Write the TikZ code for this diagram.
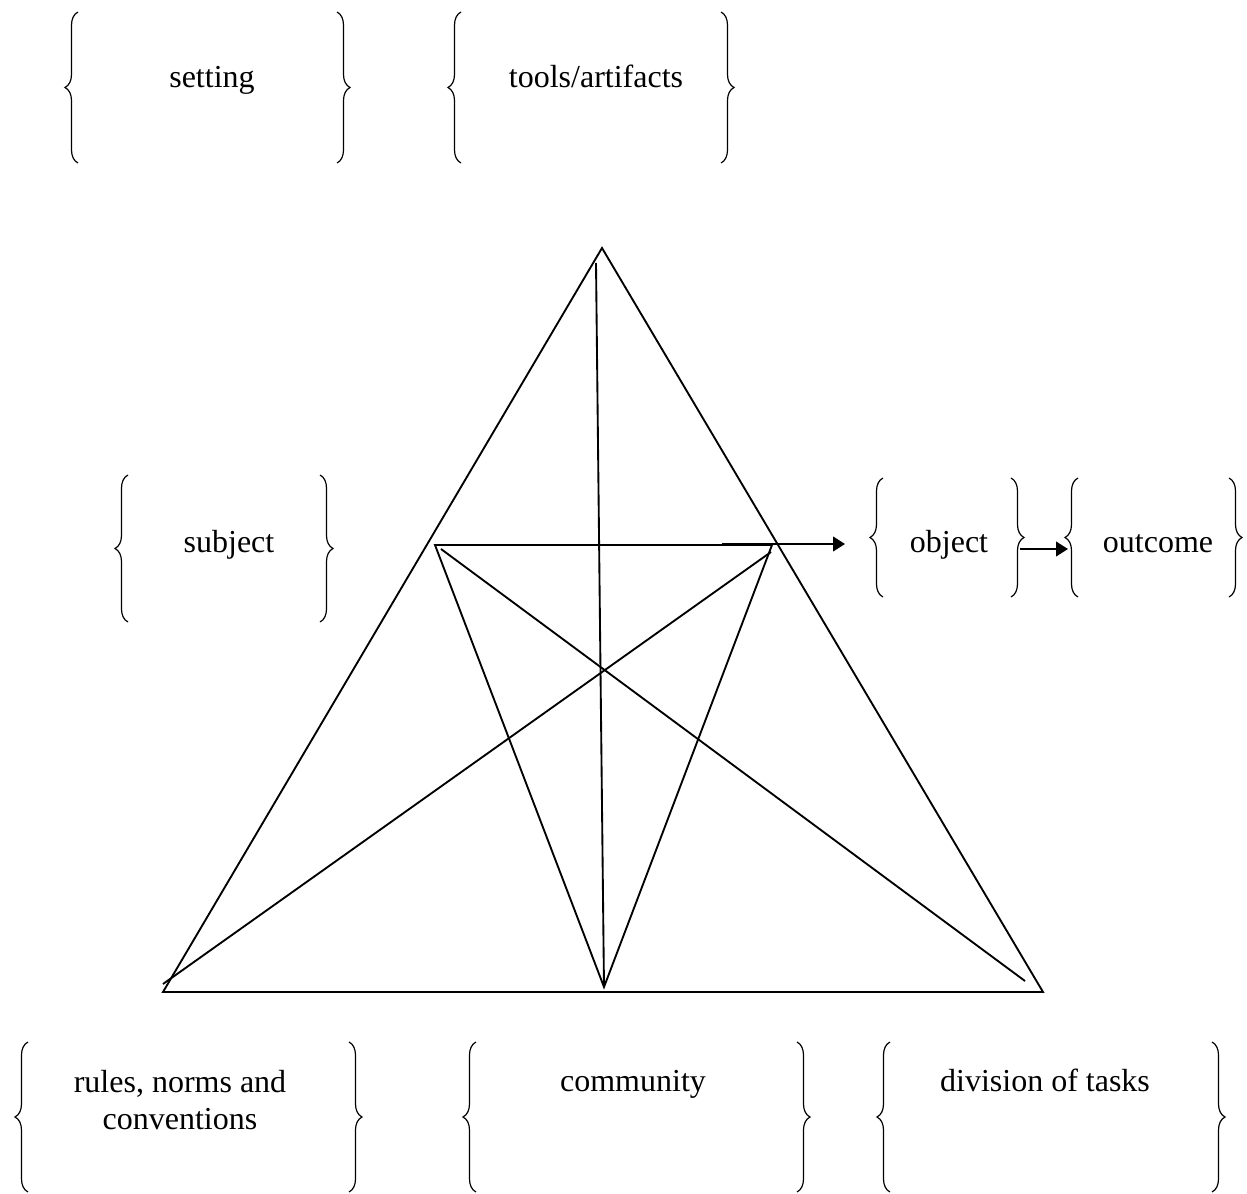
\documentclass[tikz,border=0pt]{standalone}
\usepackage{fontspec}
\setmainfont{Liberation Serif}
\usetikzlibrary{arrows.meta,decorations.pathreplacing}

\tikzset{
  brc/.style={decorate,decoration={brace,amplitude=9.75pt},line width=0.9pt},
  lbl/.style={font=\fontsize{24}{27.75}\selectfont,inner sep=0.75pt,align=center},
  edge/.style={line width=1.4pt},
  arr/.style={line width=1.6pt,-{Triangle[length=9pt,width=11pt]}}
}

\begin{document}
\begin{tikzpicture}[x=0.75pt,y=0.75pt,yscale=-1,xscale=1]
\useasboundingbox (0,0) rectangle (1247,1194);

%Corners of the triangles
\coordinate (top) at (602,248);
\coordinate (bl) at (163,992);
\coordinate (br) at (1043,992);
\coordinate (itl) at (435,545);
\coordinate (itr) at (772,545);
\coordinate (ibot) at (604,987);
\coordinate (vtop) at (596,263);
\coordinate (d1s) at (441,549);
\coordinate (d1e) at (1025,981);
\coordinate (d2s) at (771,552);
\coordinate (d2e) at (163,984);
\coordinate (arrs) at (722,544);
\coordinate (arre) at (845,544);
\coordinate (objr) at (1020,549);
\coordinate (outl) at (1068,549);

%Shape: Triangle
\draw [edge] (top) -- (br) -- (bl) -- cycle ;
%Shape: Inner triangle
\draw [edge] (itr) -- (itl) -- (ibot) -- cycle ;
%Straight Lines
\draw [edge] (vtop) -- (ibot) ;
\draw [edge] (d1s) -- (d1e) ;
\draw [edge] (d2s) -- (d2e) ;
%Arrows
\draw [arr] (arrs) -- (arre) ;
\draw [arr] (objr) -- (outl) ;

%Braces
\draw [brc] (78,163) -- (78,12) ;
\draw [brc] (337,12) -- (337,163) ;
\draw [brc] (461,163) -- (461,12) ;
\draw [brc] (721,12) -- (721,163) ;
\draw [brc] (128,622) -- (128,475) ;
\draw [brc] (320,475) -- (320,622) ;
\draw [brc] (883,597) -- (883,478) ;
\draw [brc] (1011,478) -- (1011,597) ;
\draw [brc] (1078,597) -- (1078,478) ;
\draw [brc] (1229,478) -- (1229,597) ;
\draw [brc] (28,1192) -- (28,1042) ;
\draw [brc] (349,1042) -- (349,1192) ;
\draw [brc] (476,1192) -- (476,1042) ;
\draw [brc] (797,1042) -- (797,1192) ;
\draw [brc] (890,1192) -- (890,1042) ;
\draw [brc] (1212,1042) -- (1212,1192) ;

% Text Node
\node [lbl,anchor=base] (setting) at (212,88) {setting};
% Text Node
\node [lbl,anchor=base] (tools) at (596,88) {tools/artifacts};
% Text Node
\node [lbl,anchor=base] (subject) at (229,553) {subject};
% Text Node
\node [lbl,anchor=base] (object) at (949,553) {object};
% Text Node
\node [lbl,anchor=base] (outcome) at (1158,553) {outcome};
% Text Node
\node [lbl] (rules) at (180,1100) {rules, norms and\\conventions};
% Text Node
\node [lbl,anchor=base] (community) at (633,1091) {community};
% Text Node
\node [lbl,anchor=base] (division) at (1045,1091) {division of tasks};

\end{tikzpicture}
\end{document}
